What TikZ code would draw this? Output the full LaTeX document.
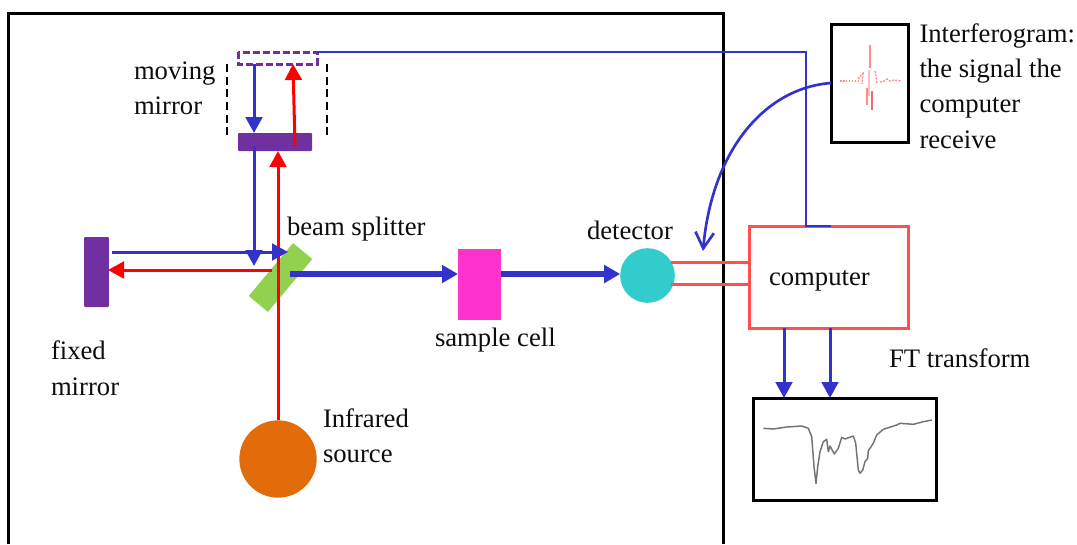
\documentclass[tikz,border=0pt]{standalone}
\usepackage{fontspec}
\setmainfont{Liberation Serif}
\usetikzlibrary{arrows.meta}
\definecolor{bluebeam}{HTML}{3333CC}
\definecolor{redbeam}{HTML}{FF0000}
\definecolor{mirrorpurple}{HTML}{7030A0}
\definecolor{splittergreen}{HTML}{92D050}
\definecolor{cellmagenta}{HTML}{FF33CC}
\definecolor{detteal}{HTML}{33CCCC}
\definecolor{srcorange}{HTML}{E36C0A}
\definecolor{wire}{HTML}{FF5050}
\tikzset{
  x=0.75pt,y=-0.75pt,
  shapebox/.style={inner sep=0pt,outer sep=0pt,rectangle},
  lbl/.style={anchor=base west,inner sep=0pt,outer sep=0pt,font=\fontsize{20pt}{24pt}\selectfont,text=black!95},
  bluearrow/.style={draw=bluebeam,line width=2.25pt,-{Triangle[length=12pt,width=12.5pt]}},
  redarrow/.style={draw=redbeam,line width=2.25pt,-{Triangle[length=12pt,width=12.5pt]}},
  thickarrow/.style={draw=bluebeam,line width=5pt,-{Triangle[length=12pt,width=13pt]}},
  wireline/.style={draw=wire,line width=2.25pt},
  framed/.style={shapebox,draw=black,line width=2.25pt,fill=white},
}
\begin{document}
\begin{tikzpicture}
\useasboundingbox (0,0) rectangle (1077,544);
% enclosure
\draw[black,line width=2.25pt] (8,544) -- (8,13) -- (723,13) -- (723,544);
% named free ends
\coordinate (xa) at (254,0);
\coordinate (xc) at (278,0);
\coordinate (dl1) at (227,64); \coordinate (dl2) at (227,135);
\coordinate (dr1) at (327,64); \coordinate (dr2) at (327,135);
\coordinate (splitTipA) at (254,266);
\coordinate (splitTipB) at (288,252);
\coordinate (splitStart) at (272,270);
\coordinate (splitOut) at (290,274);
\coordinate (mirrorStartB) at (254,146);
\coordinate (mirrorStartR) at (295,146);
\coordinate (ghostTipR) at (293,64);
\coordinate (fixedStart) at (112,252);
\coordinate (fixedTip) at (108,270);
\coordinate (curveTip) at (703,251);
% shapes
\node[shapebox,fill=mirrorpurple,minimum width=55.5pt,minimum height=13.5pt,rounded corners=0.7pt] (moving) at (275,142) {};
\node[shapebox,fill=mirrorpurple,minimum width=18.5pt,minimum height=52.5pt,rounded corners=0.7pt] (fixed) at (96.5,272) {};
\node[shapebox,fill=splittergreen,minimum width=51.75pt,minimum height=18.75pt,rotate=50,rounded corners=0.5pt] (splitter) at (280.5,277.5) {};
\node[shapebox,fill=cellmagenta,minimum width=32.25pt,minimum height=53.25pt] (cell) at (479.5,284.5) {};
\node[circle,inner sep=0pt,outer sep=0pt,fill=detteal,minimum size=41pt] (detector) at (647.5,275.5) {};
\node[circle,inner sep=0pt,outer sep=0pt,fill=srcorange,minimum size=58pt] (source) at (278,459) {};
\node[shapebox,draw=wire,line width=2.25pt,fill=white,minimum width=119.25pt,minimum height=76.5pt] (computer) at (828.5,277) {};
\node[framed,minimum width=57.75pt,minimum height=88.5pt] (interf) at (869.5,83) {};
\node[framed,minimum width=137.25pt,minimum height=76.5pt] (spectrum) at (844.5,449) {};
\path[draw=mirrorpurple,line width=2.25pt,dash pattern=on 5pt off 2.5pt] (238,52) rectangle (317,64);
\node[shapebox,minimum width=59.25pt,minimum height=9pt] (ghost) at (277.5,58) {};
% dashed guides
\draw[black,line width=1.5pt,dash pattern=on 6pt off 3.5pt] (dl1) -- (dl2);
\draw[black,line width=1.5pt,dash pattern=on 6pt off 3.5pt] (dr1) -- (dr2);
% beams
\draw[bluearrow] (xa |- ghost.south) -- (xa |- moving.north);
\draw[redarrow] (mirrorStartR) -- (ghostTipR);
\draw[bluearrow] (mirrorStartB) -- (splitTipA);
\draw[redarrow] (source.north) -- (xc |- moving.south);
\draw[bluearrow] (fixedStart) -- (splitTipB);
\draw[redarrow] (splitStart) -- (fixedTip);
\draw[thickarrow] (splitOut) -- (cell.west |- splitOut);
\draw[thickarrow] (cell.east |- splitOut) -- (detector.west |- splitOut);
% signal wires
\draw[wireline] (671,262) -- (computer.west |- 0,262);
\draw[wireline] (671,284) -- (computer.west |- 0,284);
\draw[draw=bluebeam,line width=1.7pt] (ghost.east |- 0,52) -- (806,52) -- (806,226) -- (831,226);
\draw[bluearrow] (784,328) -- (784,398);
\draw[bluearrow] (830,328) -- (830,398);
\draw[draw=bluebeam,line width=2pt,-{Straight Barb[length=12pt,width=14pt,angle'=60]}] (interf.west) .. controls (765,88) and (712,150) .. (curveTip);
% interferogram trace
\begin{scope}[draw=red!45,line width=1pt]
\draw[dash pattern=on 1.2pt off 1pt] (840,81) -- (858,81);
\draw[dash pattern=on 1.5pt off 1pt] (858,79) -- (864,72);
\draw[line width=1.4pt] (870,45) -- (870,68);
\draw[line width=1.8pt,red!25] (869,70) -- (869,96);
\draw[line width=1.2pt] (867,88) -- (867,105);
\draw[line width=1.7pt,red!60] (872,91) -- (872,110);
\draw[dash pattern=on 1.5pt off 1pt] (875,71) -- (877,84);
\draw[dash pattern=on 1.5pt off 1pt] (863,73) -- (862,84);
\draw[dash pattern=on 1.5pt off 1pt] (880,82) -- (884,81) -- (887,79) -- (890,81) -- (894,80) -- (901,81);
\end{scope}
% spectrum trace
\draw[black!55,line width=1.1pt,line join=round]
 plot coordinates {(763.3,428.3) (773.3,429) (786.7,427) (801.7,426) (808.3,428.3) (811.7,436.7) (814,466.7) (816,483.3) (817.7,466.7) (820,451.7) (823.3,441.7) (826.7,439.3) (828.3,451.7) (830,446) (834.3,454) (838.3,448.3) (841.7,437.3) (845,439) (853.3,436) (855.7,443.3) (858.3,470) (860,473.3) (862.7,470) (865,461.7) (867.7,458.3) (868.3,450.7) (873.3,443.3) (876.7,435) (883.3,429.3) (896.7,425) (900,423.3) (913.3,424.3) (923.3,421.7) (931.7,420)};
% labels
\node[lbl] (t1) at (134,79) {moving};
\node[lbl] (t2) at (134,114) {mirror};
\node[lbl] (t3) at (287,235) {beam splitter};
\node[lbl] (t4) at (587,239) {detector};
\node[lbl] (t5) at (435,346.5) {sample cell};
\node[lbl] (t6) at (51,359) {fixed};
\node[lbl] (t7) at (51,395) {mirror};
\node[lbl] (t8) at (323,427) {Infrared};
\node[lbl] (t9) at (323,462.5) {source};
\node[lbl] (t10) at (769,285) {computer};
\node[lbl] (t11) at (889,367) {FT transform};
\node[lbl] (t12) at (919.5,42.5) {Interferogram:};
\node[lbl] (t13) at (919.5,77.5) {the signal the};
\node[lbl] (t14) at (919.5,112.5) {computer};
\node[lbl] (t15) at (919.5,148) {receive};
\end{tikzpicture}
\end{document}
